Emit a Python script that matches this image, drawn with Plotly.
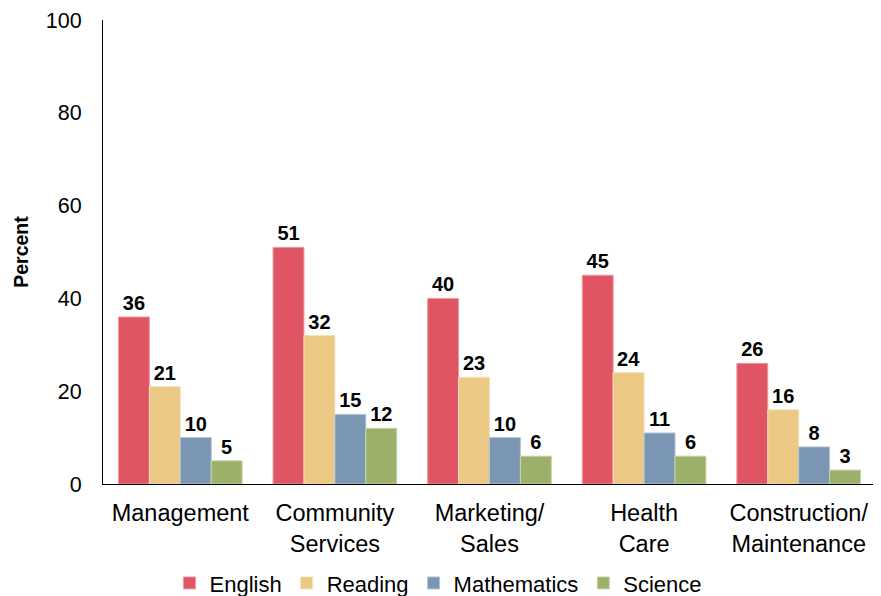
import plotly.graph_objects as go

categories = ["Management", "Community<br>Services", "Marketing/<br>Sales", "Health<br>Care", "Construction/<br>Maintenance"]
series_names = ["English", "Reading", "Mathematics", "Science"]
english = [36, 51, 40, 45, 26]
reading = [21, 32, 23, 24, 16]
mathematics = [10, 15, 10, 11, 8]
science = [5, 12, 6, 6, 3]
y_ticks = [0, 20, 40, 60, 80, 100]

colors = ["#E05563", "#EBC884", "#7A96B3", "#9CB06A"]
line_colors = ["#F09AA2", "#F6E2B8", "#B3C4D6", "#C8D6A8"]
values = [english, reading, mathematics, science]

FONT = "Liberation Sans, Arial, Helvetica, sans-serif"

fig = go.Figure()
for name, vals, c, lc in zip(series_names, values, colors, line_colors):
    fig.add_trace(go.Bar(
        x=categories, y=vals, name=name,
        marker=dict(color=c, line=dict(color=lc, width=1)),
        text=[str(v) for v in vals], textposition="outside",
        textfont=dict(family=FONT, size=20, color="black", weight="bold"),
        cliponaxis=False,
    ))

fig.update_layout(
    width=881, height=596,
    margin=dict(l=95, r=13, t=12, b=120),
    plot_bgcolor="white", paper_bgcolor="white",
    barmode="group", bargap=0.2, bargroupgap=0,
    font=dict(family=FONT, color="black"),
    showlegend=True,
    legend=dict(orientation="h", x=0.434, xanchor="center",
                yref="container", y=0.035, yanchor="middle",
                font=dict(size=22, family=FONT), itemwidth=30, traceorder="normal"),
)
fig.update_yaxes(range=[0, 100], tickvals=y_ticks, showgrid=False, zeroline=False,
                 showline=True, linecolor="black", linewidth=1, ticks="",
                 tickfont=dict(size=21.5, family=FONT), ticklabelstandoff=16,
                 automargin=False,
                 title=dict(text="<b>Percent</b>", font=dict(size=19.5, family=FONT), standoff=12))
fig.update_xaxes(showline=True, linecolor="black", linewidth=1, ticks="",
                 tickfont=dict(size=23.5, family=FONT), showgrid=False,
                 ticklabelstandoff=8, automargin=False)

fig.write_html("out.html")
